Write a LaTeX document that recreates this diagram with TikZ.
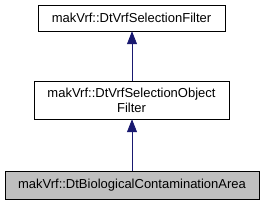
\documentclass[tikz,border=0pt]{standalone}
\usepackage{fontspec}
\setmainfont{Liberation Sans}
\definecolor{edgeblue}{HTML}{191970}
\definecolor{curgray}{HTML}{BFBFBF}
\tikzset{
  classbox/.style={draw=black,fill=white,align=center,inner sep=0pt,font=\fontsize{13}{15}\selectfont},
  inherit/.style={draw=edgeblue,line width=0.8pt,<-,>={Triangle[width=10pt,length=13pt]}}
}
\usetikzlibrary{arrows.meta}
\begin{document}
\begin{tikzpicture}[x=1pt,y=1pt]
			\useasboundingbox (0,0) rectangle (264,203);
			\node[classbox,minimum width=187pt,minimum height=26pt] (base) at (131.5,185) {makVrf::DtVrfSelectionFilter};
			\node[classbox,minimum width=195pt,minimum height=38pt] (objfilter) at (131.5,103) {makVrf::DtVrfSelectionObject\\Filter};
			\node[classbox,fill=curgray,minimum width=254pt,minimum height=28pt] (area) at (132,18) {makVrf::DtBiologicalContaminationArea};
			\draw[inherit] (base.south-|132,0) -- (objfilter.north-|132,0);
			\draw[inherit] (objfilter.south-|132,0) -- (area.north-|132,0);
\end{tikzpicture}
\end{document}
